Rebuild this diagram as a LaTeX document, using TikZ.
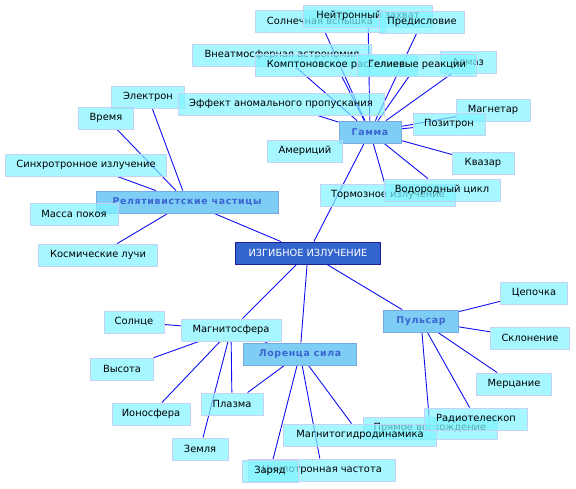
\documentclass[tikz,border=0pt]{standalone}
\usepackage{fontspec}
\setmainfont{DejaVu Sans}
\newfontfamily\hubfont[LetterSpace=7]{DejaVu Sans}
\usetikzlibrary{backgrounds}

\definecolor{leaffill}{RGB}{128,244,255}
\definecolor{leafdraw}{RGB}{195,210,245}
\definecolor{hubfill}{RGB}{125,205,245}
\definecolor{hubdraw}{RGB}{120,170,225}
\definecolor{hubtext}{RGB}{60,100,210}
\definecolor{rootfill}{RGB}{51,102,204}
\definecolor{rootdraw}{RGB}{30,30,150}
\definecolor{edgeblue}{RGB}{15,15,245}

\begin{document}
\begin{tikzpicture}[
    x=1pt, y=-1pt,
    leaf/.style={draw=leafdraw, fill=leaffill, fill opacity=0.7, text opacity=1, text=black,
        minimum height=22.5pt, inner sep=0pt, font=\fontsize{9.9}{11}\selectfont},
    hub/.style={draw=hubdraw, fill=hubfill, thick, text=hubtext, minimum height=22pt, inner sep=0pt,
        font=\hubfont\bfseries\fontsize{9.4}{11}\selectfont},
    root/.style={draw=rootdraw, fill=rootfill, thick, text=white, minimum height=22pt, inner sep=0pt,
        font=\fontsize{9.8}{11}\selectfont},
    edge/.style={edgeblue, line width=0.9pt}
]
\useasboundingbox (0,0) rectangle (576,489);

% ---------- Centre and hubs ----------
\node[root, minimum width=145pt] (bend)    at (308,253) {ИЗГИБНОЕ ИЗЛУЧЕНИЕ};
\node[hub, minimum width=62pt]   (gamma)   at (370,132) {Гамма};
\node[hub, minimum width=182pt]  (relat)   at (187,202) {Релятивистские частицы};
\node[hub, minimum width=113pt]  (lorentz) at (300,354) {Лоренца сила};
\node[hub, minimum width=75pt]   (pulsar)  at (421,321) {Пульсар};

% ---------- Gamma leaves ----------
\node[leaf, minimum width=130pt] (solar)    at (320,21)  {Солнечная вспышка};
\node[leaf, minimum width=129pt] (neutron)  at (368,16)  {Нейтронный захват};
\node[leaf, minimum width=85pt]  (preface)  at (422,22)  {Предисловие};
\node[leaf, minimum width=56pt]  (diamond)  at (468,62)  {Алмаз};
\node[leaf, minimum width=179pt] (extra)    at (282,55)  {Внеатмосферная астрономия};
\node[leaf, minimum width=162pt] (compton)  at (336,65)  {Комптоновское рассеяние};
\node[leaf, minimum width=119pt] (helium)   at (417,65)  {Гелиевые реакции};
\node[leaf, minimum width=73pt]  (electron) at (148,97)  {Электрон};
\node[leaf, minimum width=206pt] (effect)   at (281,104) {Эффект аномального пропускания};
\node[leaf, minimum width=55pt]  (time)     at (106,118) {Время};
\node[leaf, minimum width=74pt]  (magnetar) at (493,110) {Магнетар};
\node[leaf, minimum width=72pt]  (positron) at (449,124) {Позитрон};
\node[leaf, minimum width=75pt]  (americ)   at (305,151) {Америций};
\node[leaf, minimum width=62pt]  (quasar)   at (483,163) {Квазар};
\node[leaf, minimum width=135pt] (brems)    at (388,195) {Тормозное излучение};
\node[leaf, minimum width=116pt] (hydrogen) at (442,190) {Водородный цикл};

% ---------- Relativistic leaves ----------
\node[leaf, minimum width=161pt] (synchro)  at (86,165)  {Синхротронное излучение};
\node[leaf, minimum width=88pt]  (restmass) at (74,214)  {Масса покоя};
\node[leaf, minimum width=119pt] (cosmic)   at (98,255)  {Космические лучи};

% ---------- Lorentz leaves ----------
\node[leaf, minimum width=60pt]  (sun)      at (134,322) {Солнце};
\node[leaf, minimum width=100pt] (magneto)  at (231,330) {Магнитосфера};
\node[leaf, minimum width=63pt]  (height)   at (122,369) {Высота};
\node[leaf, minimum width=78pt]  (iono)     at (151,414) {Ионосфера};
\node[leaf, minimum width=62pt]  (plasma)   at (232,404) {Плазма};
\node[leaf, minimum width=56pt]  (earth)    at (200,449) {Земля};
\node[leaf, minimum width=134pt] (rightasc) at (430,428) {Прямое восхождение};
\node[leaf, minimum width=153pt] (mhd)      at (360,435) {Магнитогидродинамика};
\node[leaf, minimum width=103pt] (radiotel) at (476,419) {Радиотелескоп};
\node[leaf, minimum width=147pt] (cyclo)    at (322,470) {Циклотронная частота};
\node[leaf, minimum width=56pt]  (charge)   at (270,471) {Заряд};

% ---------- Pulsar leaves ----------
\node[leaf, minimum width=67pt]  (chain)    at (534,293) {Цепочка};
\node[leaf, minimum width=79pt]  (declin)   at (530,338) {Склонение};
\node[leaf, minimum width=75pt]  (scint)    at (514,384) {Мерцание};

% ---------- Connectors ----------
\begin{scope}[on background layer]
\foreach \n in {gamma, relat, magneto, lorentz, pulsar}
    \draw[edge] (bend) -- (\n);
\foreach \n in {solar, neutron, preface, extra, compton, helium, diamond, effect,
                magnetar, positron, quasar, hydrogen, brems}
    \draw[edge] (gamma) -- (\n);
\foreach \n in {electron, time, synchro, cosmic}
    \draw[edge] (relat) -- (\n);
\foreach \n in {sun, height, iono, earth, plasma, lorentz}
    \draw[edge] (magneto) -- (\n);
\foreach \n in {plasma, charge, cyclo, mhd}
    \draw[edge] (lorentz) -- (\n);
\foreach \n in {chain, declin, scint, radiotel, rightasc}
    \draw[edge] (pulsar) -- (\n);
\end{scope}

\end{tikzpicture}
\end{document}
